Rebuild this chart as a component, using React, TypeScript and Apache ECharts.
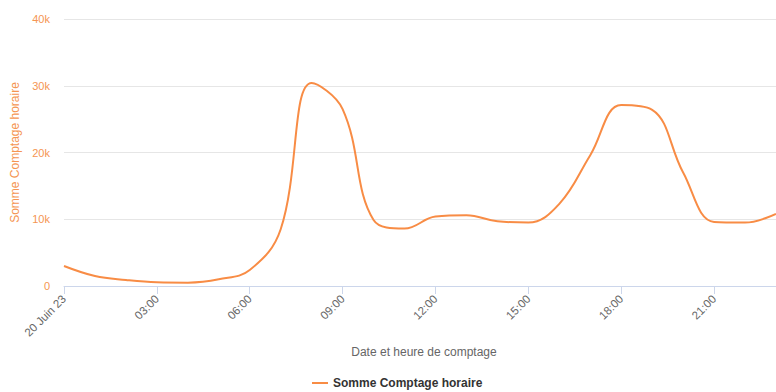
import React, { useEffect, useRef } from "react";
import * as echarts from "echarts";

const hours = [0, 1, 2, 3, 4, 5, 6, 7, 8, 9, 10, 11, 12, 13, 14, 15, 16, 17, 18, 19, 20, 21, 22, 23];
const counts = [
  3000, 1500, 900, 550, 500, 1000, 2400, 8500, 30400, 26500, 9900, 8600,
  10400, 10600, 9700, 9500, 12300, 19600, 27100, 26400, 17000, 9600, 9500, 10800,
];
const xTicks = [0, 3, 6, 9, 12, 15, 18, 21];
const xTickLabels = ["20 Juin 23", "03:00", "06:00", "09:00", "12:00", "15:00", "18:00", "21:00"];
const yTicks = [0, 10000, 20000, 30000, 40000];
const yTickLabels = ["0", "10k", "20k", "30k", "40k"];

const seriesName = "Somme Comptage horaire";
const xTitle = "Date et heure de comptage";

const LINE = "#f88c45";
const LABEL_ORANGE = "#f59552";
const FONT = "'Liberation Sans', Arial, Helvetica, sans-serif";

export default function App() {
  const ref = useRef<HTMLDivElement>(null);
  useEffect(() => {
    document.body.style.margin = "0";
    if (!ref.current) return;
    const chart = echarts.init(ref.current, undefined, { renderer: "svg" });
    chart.setOption({
      animation: false,
      textStyle: { fontFamily: FONT },
      grid: { left: 64, right: -9, top: 19, bottom: 106, containLabel: false },
      legend: {
        data: [seriesName],
        bottom: 3,
        left: 312,
        padding: 0,
        icon: "rect",
        itemWidth: 16,
        itemHeight: 2,
        itemGap: 5,
        textStyle: { fontFamily: FONT, fontWeight: "bold", fontSize: 12, color: "#333" },
      },
      xAxis: {
        type: "value",
        min: 0,
        max: 23,
        interval: 3,
        name: xTitle,
        nameLocation: "middle",
        nameGap: 58,
        nameTextStyle: { fontFamily: FONT, fontSize: 12, color: "#666", padding: [0, 0, 0, 8] },
        axisLine: { show: true, lineStyle: { color: "#ccd6eb", width: 1 } },
        axisTick: { show: true, length: 8, lineStyle: { color: "#ccd6eb" } },
        splitLine: { show: false },
        axisLabel: {
          rotate: 45,
          fontSize: 11.5,
          color: "#666",
          fontFamily: FONT,
          margin: 11,
          showMaxLabel: false,
          formatter: (v: number) => {
            const i = xTicks.indexOf(v);
            return i >= 0 ? xTickLabels[i] : "";
          },
        },
      },
      yAxis: {
        type: "value",
        min: 0,
        max: 40000,
        interval: 10000,
        name: seriesName,
        nameLocation: "middle",
        nameGap: 43,
        nameTextStyle: { fontFamily: FONT, fontSize: 12, color: LABEL_ORANGE },
        axisLine: { show: false },
        axisTick: { show: false },
        splitLine: { show: true, lineStyle: { color: "#e6e6e6", width: 1 } },
        axisLabel: {
          fontSize: 11,
          color: LABEL_ORANGE,
          fontFamily: FONT,
          margin: 14,
          formatter: (v: number) => {
            const i = yTicks.indexOf(v);
            return i >= 0 ? yTickLabels[i] : "";
          },
        },
      },
      series: [
        {
          name: seriesName,
          type: "line",
          data: hours.map((h, i) => [h, counts[i]]),
          smooth: 0.4,
          showSymbol: false,
          symbol: "none",
          lineStyle: { color: LINE, width: 2 },
          itemStyle: { color: LINE },
        },
      ],
    });
    return () => chart.dispose();
  }, []);
  return <div ref={ref} style={{ width: 776, height: 392 }} />;
}
